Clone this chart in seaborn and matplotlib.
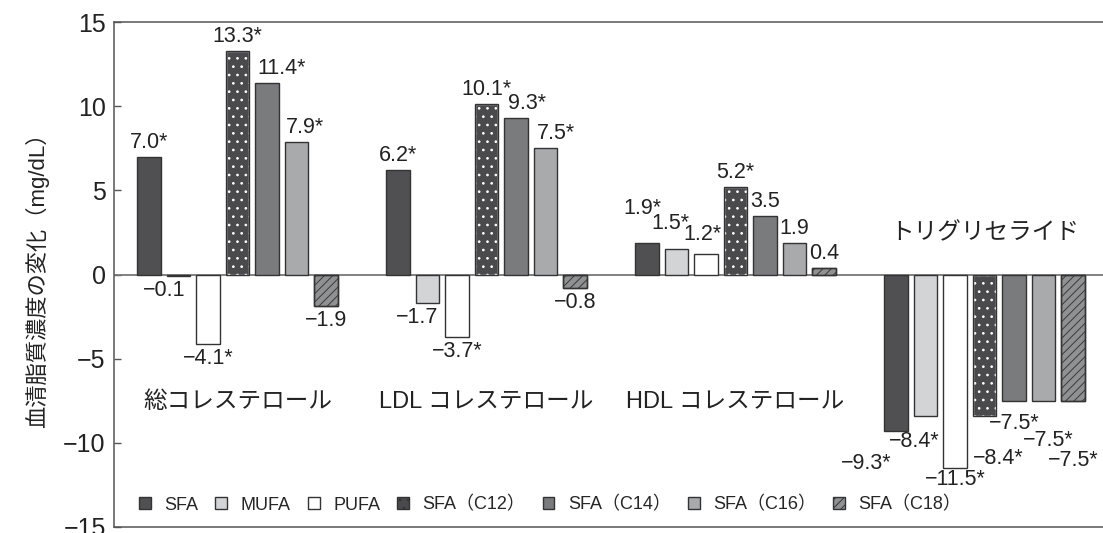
import matplotlib
matplotlib.use('Agg')
import matplotlib.pyplot as plt
from matplotlib.patches import Patch, Rectangle
import pandas as pd
import seaborn as sns

# categories and series
groups = ['総コレステロール', 'LDL コレステロール', 'HDL コレステロール', 'トリグリセライド']
series = ['SFA', 'MUFA', 'PUFA', 'SFA（C12）', 'SFA（C14）', 'SFA（C16）', 'SFA（C18）']

# change in serum lipid (mg/dL), one list per series across the 4 groups
sfa = [7.0, 6.2, 1.9, -9.3]
mufa = [-0.1, -1.7, 1.5, -8.4]
pufa = [-4.1, -3.7, 1.2, -11.5]
sfa_c12 = [13.3, 10.1, 5.2, -8.4]
sfa_c14 = [11.4, 9.3, 3.5, -7.5]
sfa_c16 = [7.9, 7.5, 1.9, -7.5]
sfa_c18 = [-1.9, -0.8, 0.4, -7.5]

# significance marks (*)
star_sfa = [True, True, True, True]
star_mufa = [False, False, True, True]
star_pufa = [True, True, True, True]
star_c12 = [True, True, True, True]
star_c14 = [True, True, False, True]
star_c16 = [True, True, False, True]
star_c18 = [False, False, False, True]

values = [sfa, mufa, pufa, sfa_c12, sfa_c14, sfa_c16, sfa_c18]
stars = [star_sfa, star_mufa, star_pufa, star_c12, star_c14, star_c16, star_c18]

colors = ['#505052', '#d3d4d5', '#ffffff', '#4a4a4c', '#7a7b7d', '#a9aaac', '#909193']
hatches = [None, None, None, '..', None, None, '////']
hatch_colors = [None, None, None, 'white', None, None, '#3a3a3a']
edge = '#333333'

# label nudges (pixels) for crowded labels: (series index, group index) -> (dx, dy)
nudge = {
    (1, 0): (-14, 0), (4, 0): (15, 0), (5, 0): (8, 0),
    (1, 1): (-10, 0), (4, 1): (11, 0), (5, 1): (10, 0),
    (0, 2): (-5, 20), (1, 2): (-6, 11), (2, 2): (-4, 5),
    (0, 3): (-30, -18), (1, 3): (-11, -11), (2, 3): (0, 3), (3, 3): (14, -28),
    (4, 3): (0, -8), (5, 3): (5, -25), (6, 3): (0, -45),
}

rows = []
for s, vals in zip(series, values):
    for g, v in zip(groups, vals):
        rows.append(dict(group=g, series=s, value=v))
df = pd.DataFrame(rows)

sns.set_theme(style='ticks')
fams = ['Liberation Sans', 'Noto Sans CJK JP']
plt.rcParams['font.family'] = fams
plt.rcParams['hatch.linewidth'] = 0.7

fig = plt.figure(figsize=(11.03, 5.33), dpi=100)
ax = fig.add_axes([114 / 1103, 6 / 533, 989 / 1103, 505 / 533])

sns.barplot(data=df, x='group', y='value', hue='series', order=groups, hue_order=series,
            palette=dict(zip(series, colors)), width=0.83, gap=0.2, saturation=1,
            edgecolor=edge, linewidth=1.0, errorbar=None, legend=False, ax=ax, zorder=2)

ax.axhline(0, color='#777777', lw=1.3, zorder=1)


def style_hatch(p, h, hc):
    p.set_hatch(h)
    if hasattr(p, 'set_hatchcolor'):
        p.set_hatchcolor(hc)
        return None
    p.set_edgecolor(hc)
    return Rectangle(p.get_xy(), p.get_width(), p.get_height(), fill=False, ec=edge, lw=1.0, zorder=3)


for i, cont in enumerate(ax.containers):
    if hatches[i] is None:
        continue
    for p in cont.patches:
        outline = style_hatch(p, hatches[i], hatch_colors[i])
        if outline is not None:
            ax.add_patch(outline)

# value labels
for i, cont in enumerate(ax.containers):
    for j, p in enumerate(cont.patches):
        v = values[i][j]
        txt = f'{v:.1f}'.replace('-', '−') + ('*' if stars[i][j] else '')
        dx, dy = nudge.get((i, j), (0, 0))
        x = p.get_x() + p.get_width() / 2
        if v >= 0:
            va, base = 'bottom', 4
        else:
            va, base = 'top', -4
        ax.annotate(txt, (x, v), xytext=(dx, base + dy), textcoords='offset pixels',
                    ha='center', va=va, fontsize=15.5, color='#222222')

# group names
for k, g in enumerate(groups):
    y = 2.45 if k == 3 else -7.6
    ax.text(k, y, g, ha='center', va='center', fontsize=17, color='#222222')

ax.set_ylim(-15, 15)
ax.set_xlim(-0.496, 3.476)
ax.set_yticks([-15, -10, -5, 0, 5, 10, 15])
ax.set_xticks([])
ax.set_xlabel('')
ax.set_ylabel('血清脂質濃度の変化（mg/dL）', fontsize=16, color='#222222')
ax.yaxis.set_label_coords(-0.066, 0.5)
ax.tick_params(axis='y', direction='in', length=5, width=1, color='#555555',
               labelsize=18, pad=6, labelcolor='#222222')
for side in ['left', 'top', 'bottom']:
    ax.spines[side].set_color('#555555')
    ax.spines[side].set_linewidth(1.1)
ax.spines['right'].set_visible(False)

handles = []
for c, h, hc in zip(colors, hatches, hatch_colors):
    hp = Patch(facecolor=c, edgecolor=edge, linewidth=1.0)
    if h is not None:
        hp.set_hatch(h)
        if hasattr(hp, 'set_hatchcolor'):
            hp.set_hatchcolor(hc)
    handles.append(hp)

ax.legend(handles, series, loc='lower left', bbox_to_anchor=(0.018, 0.012),
          ncol=7, frameon=False, fontsize=13, handlelength=0.65, handleheight=0.65,
          handletextpad=0.75, columnspacing=0.95, borderaxespad=0)

fig.savefig('out.png', dpi=100)
